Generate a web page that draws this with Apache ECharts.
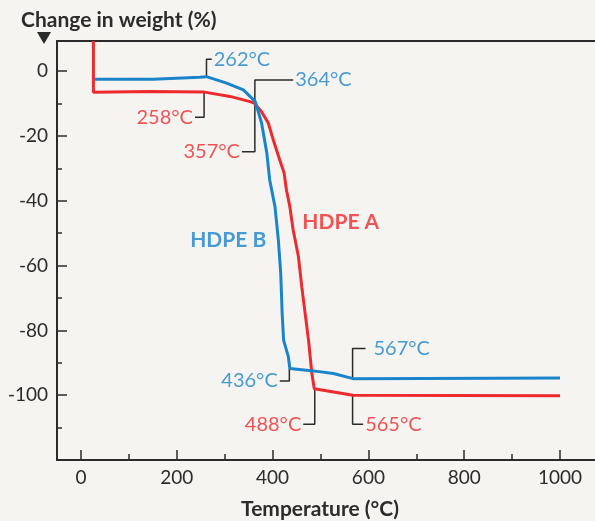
<!DOCTYPE html>
<html>
<head>
<meta charset="utf-8">
<script src="https://cdn.jsdelivr.net/npm/echarts@6/dist/echarts.min.js"></script>
<style>
  html, body { margin: 0; padding: 0; background: #f6f4f1; }
  #chart { width: 595px; height: 521px; }
</style>
</head>
<body>
<div id="chart"></div>
<script>
// 数据
var aTemp = [26, 26, 144, 255, 311, 353, 362, 377, 391, 401, 415, 424, 429, 436, 443, 454, 461, 468, 475, 482, 487, 568, 1000];
var aWeight = [9.3, -6.5, -6.3, -6.4, -7.8, -9.4, -9.9, -12.5, -16, -21, -27.4, -31.4, -36.7, -41.8, -49, -57.3, -66.6, -74.8, -83, -93.3, -98, -100, -100.2];
var bTemp = [29, 150, 248, 262, 304, 339, 364, 377, 388, 394, 405, 412, 417, 420, 423, 433, 436, 485, 527, 568, 1000];
var bWeight = [-2.5, -2.5, -1.9, -1.7, -3.7, -5.8, -9.4, -16, -25.3, -33.6, -41.8, -52, -62.4, -74.8, -83, -88.2, -91.8, -92.5, -93.3, -94.9, -94.7];

var xTicks = [0, 200, 400, 600, 800, 1000];
var xMinor = [100, 300, 500, 700, 900];
var yTicks = [-120, -100, -80, -60, -40, -20, 0];
var yMinor = [-110, -90, -70, -50, -30, -10];

// 标注引线 (温度, 重量)
var leaders = [
  [[262, -1.7], [262, 3.7], [273, 3.7]],
  [[257, -6.4], [257, -14.2], [238, -14.2]],
  [[363, -9.6], [363, -2.7], [443, -2.7]],
  [[363, -9.6], [363, -24.9], [336, -24.9]],
  [[435, -91.8], [435, -95.6], [415, -95.6]],
  [[488, -98], [488, -109], [464, -109]],
  [[567, -100], [567, -109], [589, -109]],
  [[567, -94.9], [567, -85.6], [594, -85.6]]
];
var noteText = ['262°C', '258°C', '364°C', '357°C', '436°C', '488°C', '565°C', '567°C'];
var noteColor = ['b', 'a', 'b', 'a', 'b', 'a', 'a', 'b'];
var noteSide = ['right', 'left', 'right', 'left', 'left', 'left', 'right', 'right'];

var nameText = ['HDPE A', 'HDPE B'];
var namePos = [[462, -46.6], [228, -52.3]];

var RED = '#ee2a2f';
var BLUE = '#1a84ca';
var INK = '#2b2b2b';
var FONT = 'Lato';

function zip(xs, ys) {
  var out = [];
  for (var i = 0; i < xs.length; i++) out.push([xs[i], ys[i]]);
  return out;
}

var series = [];
leaders.forEach(function (pts, i) {
  series.push({
    type: 'line', data: pts, symbol: 'none', silent: true,
    lineStyle: { color: INK, width: 1.5 }, z: 1
  });
});
series.push({
  name: 'HDPE A', type: 'line', data: zip(aTemp, aWeight), symbol: 'none',
  lineStyle: { color: RED, width: 3 }, z: 3
});
series.push({
  name: 'HDPE B', type: 'line', data: zip(bTemp, bWeight), symbol: 'none',
  lineStyle: { color: BLUE, width: 3 }, z: 4
});
// 温度标签
var noteData = leaders.map(function (pts, i) {
  var end = pts[pts.length - 1];
  return {
    value: end,
    label: {
      show: true, formatter: noteText[i], position: noteSide[i],
      distance: i === 7 ? 8 : 2,
      color: noteColor[i] === 'a' ? RED : BLUE
    }
  };
});
series.push({
  type: 'scatter', data: noteData, symbolSize: 0, silent: true,
  label: { fontFamily: FONT, fontSize: 20 }, z: 5
});
series.push({
  type: 'scatter', symbolSize: 0, silent: true,
  data: namePos.map(function (p, i) {
    return {
      value: p,
      label: { show: true, position: 'right', distance: 0, formatter: nameText[i], color: i === 0 ? RED : BLUE }
    };
  }),
  label: { fontFamily: FONT, fontSize: 21, fontWeight: 'bold' }, z: 5
});

var chart = echarts.init(document.getElementById('chart'));
var option = {
  backgroundColor: '#f6f4f1',
  animation: false,
  title: {
    text: 'Change in weight (%)', left: 16, top: 5,
    textStyle: { fontFamily: FONT, fontSize: 21, fontWeight: 'bold', color: INK }
  },
  graphic: [{
    type: 'polygon', shape: { points: [[37, 32], [51, 32], [44, 44]] },
    style: { fill: INK }
  }],
  // 第二个grid只用来画小刻度
  grid: [
    { left: 57, right: 0, top: 41, bottom: 61, outerBoundsMode: 'none' },
    { left: 57, right: 0, top: 41, bottom: 61, outerBoundsMode: 'none' }
  ],
  xAxis: [{
    gridIndex: 0, type: 'value', min: -50, max: 1073, position: 'bottom',
    name: 'Temperature (°C)', nameLocation: 'middle', nameGap: 39,
    nameTextStyle: { fontFamily: FONT, fontSize: 21, fontWeight: 'bold', color: INK, padding: [0, 12, 0, 0] },
    axisLine: { show: true, onZero: false, lineStyle: { color: INK, width: 2 } },
    axisTick: { show: true, inside: true, length: 10, customValues: xTicks, lineStyle: { color: INK, width: 1.5 } },
    axisLabel: {
      customValues: xTicks, margin: 8, fontFamily: FONT, fontSize: 19, color: INK,
      formatter: function (v) { return String(v); }
    },
    splitLine: { show: false }
  }, {
    gridIndex: 0, type: 'value', min: -50, max: 1073, position: 'top',
    axisLine: { show: true, onZero: false, lineStyle: { color: INK, width: 2 } },
    axisTick: { show: false }, axisLabel: { show: false }, splitLine: { show: false }
  }, {
    gridIndex: 1, type: 'value', min: -50, max: 1073, position: 'bottom',
    axisLine: { show: false, onZero: false },
    axisTick: { show: true, inside: true, length: 6, customValues: xMinor, lineStyle: { color: INK, width: 1.5 } },
    axisLabel: { show: false }, splitLine: { show: false }
  }],
  yAxis: [{
    gridIndex: 0, type: 'value', min: -120, max: 9.3, position: 'left',
    axisLine: { show: true, onZero: false, lineStyle: { color: INK, width: 2 } },
    axisTick: { show: true, inside: true, length: 10, customValues: yTicks, lineStyle: { color: INK, width: 1.5 } },
    axisLabel: {
      customValues: yTicks.slice(1), margin: 9, fontFamily: FONT, fontSize: 19, color: INK
    },
    splitLine: { show: false }
  }, {
    gridIndex: 1, type: 'value', min: -120, max: 9.3, position: 'left',
    axisLine: { show: false, onZero: false },
    axisTick: { show: true, inside: true, length: 5, customValues: yMinor, lineStyle: { color: INK, width: 1.5 } },
    axisLabel: { show: false }, splitLine: { show: false }
  }],
  series: series
};
chart.setOption(option);
</script>
</body>
</html>
